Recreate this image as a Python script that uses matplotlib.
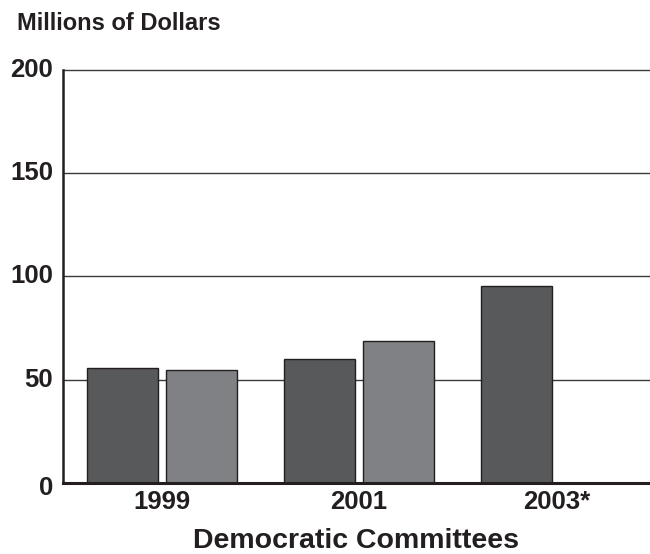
import matplotlib
matplotlib.use("Agg")
import matplotlib.pyplot as plt
import matplotlib.transforms as mtransforms
import numpy as np

plt.rcParams['font.family'] = ['Liberation Sans', 'DejaVu Sans']

categories = ["1999", "2001", "2003*"]
dark_values = [55.4, 59.8, 95.5]
light_values = [54.6, 68.8, None]
yticks = [0, 50, 100, 150, 200]

txt = "#231f20"
fig = plt.figure(figsize=(6.5, 5.54), dpi=100)
ax = fig.add_axes([0.0969, 0.1287, 0.9031, 0.7449])

x = np.arange(len(categories))
w = 0.36
off = 0.2
ax.bar(x - off, dark_values, width=w, color="#58595b", edgecolor=txt, linewidth=1.0, zorder=3)
lx = [xi + off for xi, v in zip(x, light_values) if v is not None]
lv = [v for v in light_values if v is not None]
ax.bar(lx, lv, width=w, color="#808184", edgecolor=txt, linewidth=1.0, zorder=3)

ax.set_xlim(-0.5, 2.475)
ax.set_ylim(0, 200)
ax.set_yticks(yticks)
ax.set_yticklabels([str(t) for t in yticks], fontsize=18.5, fontweight='bold', color=txt)
ax.set_xticks(x)
ax.set_xticklabels(categories, fontsize=18.5, fontweight='bold', color=txt)
ax.tick_params(axis='both', length=0)
ax.tick_params(axis='y', pad=7)
ax.tick_params(axis='x', pad=5)
for lab in ax.get_yticklabels():
    lab.set_verticalalignment('center')
# the zero label sits a little below the baseline in the reference
zero_lab = ax.get_yticklabels()[0]
zero_lab.set_transform(zero_lab.get_transform() +
                       mtransforms.ScaledTranslation(0, -4/72, fig.dpi_scale_trans))
for t in yticks[1:]:
    ax.axhline(t, color="#3a3a3a", linewidth=1.0, zorder=1, clip_on=False)
for s in ['top', 'right']:
    ax.spines[s].set_visible(False)
ax.spines['left'].set_linewidth(1.8)
ax.spines['left'].set_color(txt)
ax.spines['bottom'].set_linewidth(2.2)
ax.spines['bottom'].set_color(txt)
ax.spines['bottom'].set_zorder(4)

ax.set_xlabel("Democratic Committees", fontsize=20.5, fontweight='bold', color=txt, labelpad=10)
fig.text(17/650, 1 - 23/554, "Millions of Dollars", fontsize=17, fontweight='bold', color=txt,
         ha='left', va='center')

fig.savefig("out.png", dpi=100)
